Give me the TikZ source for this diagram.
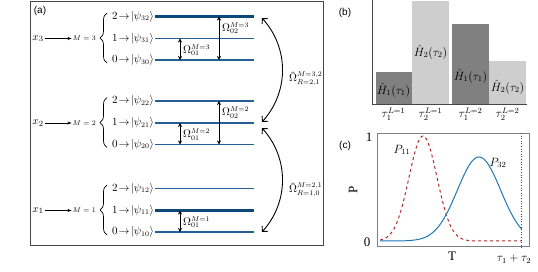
\documentclass[tikz,border=0pt]{standalone}
\usepackage{fontspec}
\setmainfont{Liberation Serif}
\setsansfont{Liberation Sans}
\usepackage{amsmath}
\usetikzlibrary{arrows.meta, positioning, calc, decorations.pathreplacing}
\definecolor{levelblue}{RGB}{34, 96, 150}
\definecolor{deepblue}{RGB}{12, 72, 122}
\definecolor{bardark}{RGB}{128, 128, 128}
\definecolor{barlight}{RGB}{206, 206, 206}
\definecolor{curvered}{RGB}{178, 44, 44}
\definecolor{curveblue}{RGB}{31, 119, 180}
\definecolor{framegray}{RGB}{70, 70, 70}

\begin{document}
\begin{tikzpicture}[x=1pt, y=-1pt,
    level/.style={levelblue, line width=1.4pt},
    thicklevel/.style={deepblue, line width=3.2pt},
    statelab/.style={anchor=east, inner sep=1pt, font=\fontsize{10.5}{12}\selectfont},
    omega/.style={{Stealth[length=4pt,width=4pt]}-{Stealth[length=4pt,width=4pt]}, line width=0.9pt},
    coupling/.style={{Straight Barb[length=4pt]}-{Straight Barb[length=4pt]}, line width=0.9pt},
    omegalab/.style={anchor=west, inner sep=1pt, font=\fontsize{10.5}{12}\selectfont},
    panellab/.style={font=\sffamily\fontsize{10}{12}\selectfont},
    barlab/.style={inner sep=1pt, font=\fontsize{12}{14}\selectfont},
    axislab/.style={inner sep=1pt, font=\fontsize{13}{15}\selectfont},
    ]
    \useasboundingbox (0,0) rectangle (538,272);

    % (a) energy levels
    \draw[framegray, line width=0.8pt] (30,1) rectangle (323,245.5);
    \node[panellab] (laba) at (40,11) {(a)};
    \foreach \m/\y/\sa/\sb/\sc in {3/60/level/level/thicklevel, 2/144.5/level/level/level, 1/232/level/thicklevel/level} {
        \node[statelab] (psi\m0) at (155,\y) {$0\!\rightarrow\!|\psi_{\m0}\rangle$};
        \node[statelab] (psi\m1) at (155,\y-21.5) {$1\!\rightarrow\!|\psi_{\m1}\rangle$};
        \node[statelab] (psi\m2) at (155,\y-43.5) {$2\!\rightarrow\!|\psi_{\m2}\rangle$};
        \draw[\sa] (psi\m0.east) -- ++(99,0);
        \draw[\sb] (psi\m1.east) -- ++(99,0);
        \draw[\sc] (psi\m2.east) -- ++(99,0);
        \draw[decorate, decoration={brace, amplitude=7pt}, line width=0.7pt] (107,\y+3) -- (107,\y-47);
        \node[anchor=east, inner sep=1pt, font=\fontsize{7}{8}\selectfont] (mlab\m) at (97,\y-21.5) {$M = \m$};
        \node[inner sep=1pt, font=\fontsize{11}{12}\selectfont] (xlab\m) at (38,\y-21.5) {$x_\m$};
        \draw[-{Stealth[length=4pt]}, line width=0.8pt] (xlab\m) -- (mlab\m);
        \coordinate (lo\m) at (180,\y);
        \coordinate (mi\m) at (180,\y-21.5);
        \draw[omega] (lo\m) -- (mi\m);
        \node[omegalab] (om01m\m) at (182,\y-10) {$\Omega^{M=\m}_{01}$};
    }
    \foreach \m/\y in {3/60, 2/144.5} {
        \coordinate (bo\m) at (219,\y);
        \coordinate (to\m) at (219,\y-43.5);
        \draw[omega] (bo\m) -- (to\m);
        \node[omegalab] (om02m\m) at (221,\y-32) {$\Omega^{M=\m}_{02}$};
    }
    \coordinate (c3t) at (262,18);
    \coordinate (c3b) at (262,122);
    \coordinate (c2t) at (262,128);
    \coordinate (c2b) at (262,232);
    \draw[coupling] (c3t) to[bend left=42] (c3b);
    \draw[coupling] (c2t) to[bend left=42] (c2b);
    \node[omegalab] (cpl32) at (288,79) {$\tilde{\Omega}^{M=3,2}_{R=2,1}$};
    \node[omegalab] (cpl21) at (288,190) {$\tilde{\Omega}^{M=2,1}_{R=1,0}$};

    % (b) pulse sequence
    \node[panellab] (labb) at (345,13) {(b)};
    \fill[bardark] (375.5,104) rectangle (412,72.5);
    \fill[barlight] (412,104) rectangle (449,1);
    \fill[bardark] (452,104) rectangle (489,24);
    \fill[barlight] (489,104) rectangle (526,61);
    \draw[framegray, line width=0.8pt] (372,0) -- (372,104.5) -- (527,104.5);
    \node[barlab] (hbar1) at (393.5,90) {$\hat{H}_1(\tau_1)$};
    \node[barlab] (hbar2) at (430.5,52) {$\hat{H}_2(\tau_2)$};
    \node[barlab] (hbar3) at (470.5,76) {$\hat{H}_1(\tau_1)$};
    \node[barlab] (hbar4) at (507.5,87) {$\hat{H}_2(\tau_2)$};
    \node[barlab] (tick1) at (393.5,114) {$\tau_1^{L=1}$};
    \node[barlab] (tick2) at (430.5,114) {$\tau_2^{L=1}$};
    \node[barlab] (tick3) at (470.5,114) {$\tau_1^{L=2}$};
    \node[barlab] (tick4) at (507.5,114) {$\tau_2^{L=2}$};

    % (c) populations
    \node[panellab] (labc) at (345,146) {(c)};
    \draw[gray, line width=0.6pt] (377,133) rectangle (529,246);
    \draw[dotted, framegray, line width=0.6pt] (521.7,133) -- (521.7,249);
    \draw[curvered, dashed, line width=1pt] plot[domain=380:521.7, samples=90] (\x, {241-105*exp(-0.5*((\x-423)/14)^2)});
    \draw[curveblue, line width=1pt] plot[domain=380:521.7, samples=90] (\x, {241-84*exp(-0.5*((\x-479)/21.6)^2)});
    \node[axislab] (one) at (369,137) {1};
    \node[axislab] (zero) at (367,242) {0};
    \node[axislab, rotate=90] (pname) at (353,190) {P};
    \node[axislab] (tname) at (452,256) {T};
    \node[barlab] (tsum) at (514,259) {$\tau_1+\tau_2$};
    \node[barlab] (p11) at (402,150) {$P_{11}$};
    \node[barlab] (p32) at (498,163) {$P_{32}$};
\end{tikzpicture}
\end{document}
